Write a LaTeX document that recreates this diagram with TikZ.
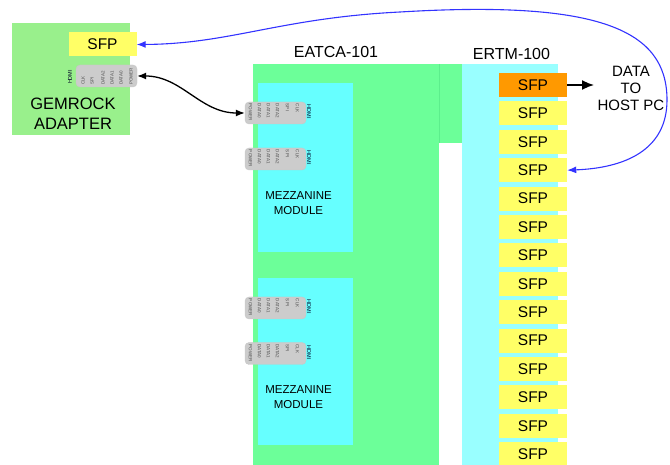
\documentclass[tikz,border=0pt]{standalone}
\usepackage{fontspec}
\setmainfont{Liberation Sans}
\usetikzlibrary{positioning,calc,arrows.meta}

\definecolor{adaptergreen}{RGB}{153,240,140}
\definecolor{boardgreen}{RGB}{108,255,153}
\definecolor{tabline}{RGB}{92,238,140}
\definecolor{mezzcyan}{RGB}{102,255,255}
\definecolor{ertmcyan}{RGB}{153,255,255}
\definecolor{sfpyellow}{RGB}{255,255,102}
\definecolor{sfporange}{RGB}{255,153,0}
\definecolor{conngray}{RGB}{204,204,204}
\definecolor{linkblue}{RGB}{51,51,255}

\tikzset{
  board/.style={fill=#1, inner sep=0, anchor=north west},
  sfpbox/.style={fill=sfpyellow, minimum width=68, minimum height=24, inner sep=0,
    font=\fontsize{15.5}{16}\selectfont},
  connbox/.style={fill=conngray, draw=black!22, rounded corners=4, minimum width=61,
    minimum height=22, inner sep=0},
  pin/.style={font=\fontsize{4.5}{5}\selectfont, text=black!70, inner sep=0},
  hdmi/.style={font=\fontsize{5.5}{6}\selectfont, text=black!85!blue, inner sep=0},
  title/.style={font=\fontsize{16}{18}\selectfont},
  >={Latex[length=9pt,width=7pt]},
}

\begin{document}
\begin{tikzpicture}[x=1pt,y=-1pt]
    \useasboundingbox (0,0) rectangle (670,465);
    % boards
    \node[board=adaptergreen, minimum width=118, minimum height=112] (adapter) at (12,23) {};
    \node[board=boardgreen, minimum width=186, minimum height=401] (eatca) at (253,64) {};
    \node[board=boardgreen, minimum width=23, minimum height=79] (tab) at (439,64) {};
    \draw[tabline, thin] (tab.north west) -- (tab.south west);
    \node[board=ertmcyan, minimum width=96, minimum height=401] (ertm) at (462,64) {};
    \node[board=mezzcyan, minimum width=95, minimum height=169] (mezz1) at (258,83) {};
    \node[board=mezzcyan, minimum width=95, minimum height=167] (mezz2) at (258,278) {};
    % labels
    \node[title] (eatcalabel) at (336,51.5) {EATCA-101};
    \node[title] (ertmlabel) at (511.5,53.5) {ERTM-100};
    \node[align=center, font=\fontsize{16.5}{20}\selectfont] (gemrock) at (73,113.5) {GEMROCK\\ADAPTER};
    \node[align=center, font=\fontsize{11.5}{15}\selectfont] (mezz1label) at (298.5,203) {MEZZANINE\\MODULE};
    \node[align=center, font=\fontsize{11.5}{15}\selectfont] (mezz2label) at (298.5,397) {MEZZANINE\\MODULE};
    \node[align=center, font=\fontsize{15}{17}\selectfont] (hostpc) at (631,88.5) {DATA\\TO\\HOST PC};
    % sfp cages
    \node[sfpbox] (sfpA) at (102.5,44.5) {SFP};
    \node[sfpbox, fill=sfporange] (sfp1) at (533,85) {SFP};
    \foreach \i [evaluate=\i as \prev using int(\i-1)] in {2,...,14}
        \node[sfpbox, below=4pt of sfp\prev] (sfp\i) {SFP};
    % hdmi connectors on the mezzanines
    \foreach \n/\cy in {1/113, 2/159, 3/308, 4/353.5} {
        \node[connbox] (conn\n) at (275.5,\cy) {};
        \foreach \dx/\t in {-25/POWER, -16/DATA0, -7/DATA1, 2/DATA2, 12/SPI, 22/CLK}
            \node[pin, rotate=-90, anchor=west] at ($(conn\n.north)+(\dx,2)$) {\t};
        \node[hdmi, rotate=-90, anchor=west] at ($(conn\n.north)+(33.5,3)$) {HDMI};
    }
    % hdmi connector on the adapter
    \node[connbox] (conn0) at (106.5,76) {};
    \foreach \dx/\t in {24.5/POWER, 14.5/DATA0, 5.5/DATA1, -3.5/DATA2, -14.5/SPI, -23.5/CLK}
        \node[pin, rotate=90, anchor=west] at ($(conn0.south)+(\dx,-2)$) {\t};
    \node[hdmi, rotate=90, anchor=west] at ($(conn0.south)+(-36.5,-3)$) {HDMI};
    % links
    \draw[<->, line width=1.3pt] (conn0.east) to[out=0, in=180] (conn1.west);
    \draw[<->, linkblue, line width=1.1pt] (sfpA.east)
        .. controls (230,44) and (280,18) .. (400,12)
        .. controls (600,0) and (667,30) .. (667,100)
        .. controls (667,150) and (625,168) .. (sfp4.east);
    \draw[-{Latex[length=12pt,width=10pt]}, line width=2pt] (sfp1.east) -- (sfp1.east -| hostpc.west);
\end{tikzpicture}
\end{document}
